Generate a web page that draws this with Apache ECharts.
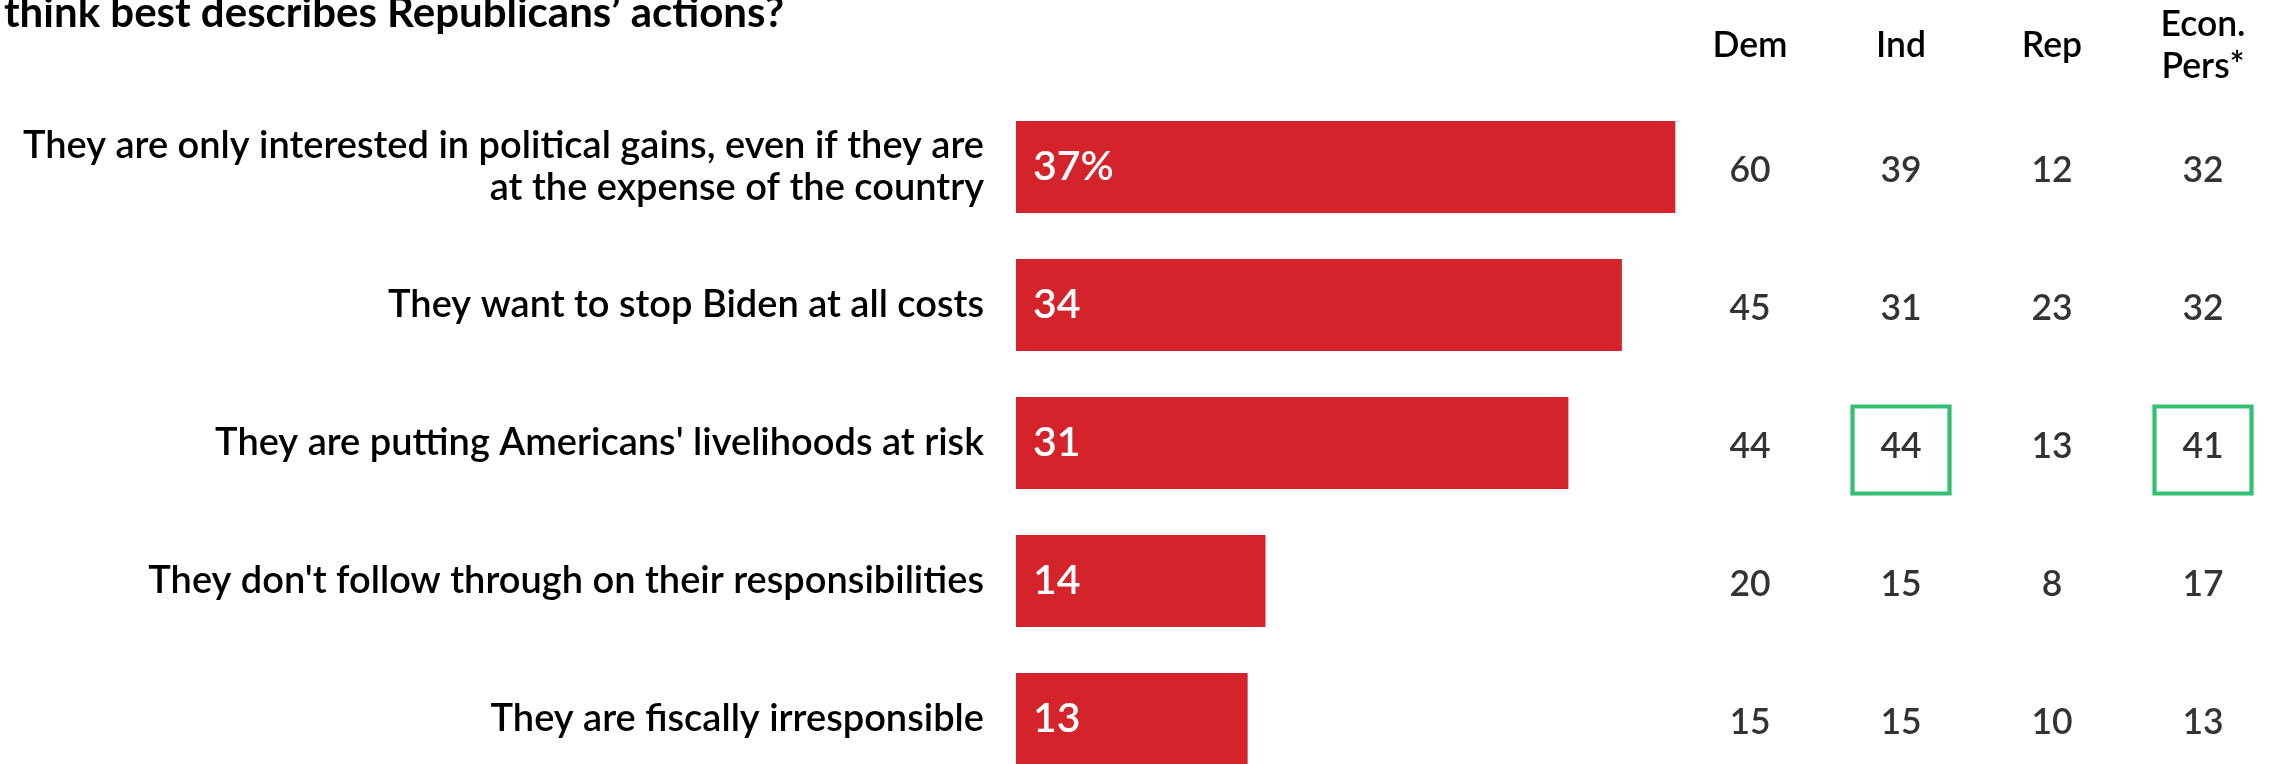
<!DOCTYPE html>
<html>
<head>
<meta charset="utf-8">
<script src="https://cdn.jsdelivr.net/npm/echarts@6/dist/echarts.min.js"></script>
<style>
  html, body { margin: 0; padding: 0; background: #ffffff; }
  #chart { width: 2275px; height: 764px; }
</style>
</head>
<body>
<div id="chart"></div>
<script>
// Survey answers, shares of all respondents (%)
const categories = [
  'They are only interested in political gains, even if they are\nat the expense of the country',
  'They want to stop Biden at all costs',
  "They are putting Americans' livelihoods at risk",
  "They don't follow through on their responsibilities",
  'They are fiscally irresponsible'
];
const totals = [37, 34, 31, 14, 13];

// Breakdown by group
const groups = ['Dem', 'Ind', 'Rep', 'Econ.\nPers*'];
const dem = [60, 45, 44, 20, 15];
const ind = [39, 31, 44, 15, 15];
const rep = [12, 23, 13, 8, 10];
const econ = [32, 32, 41, 17, 13];

// Cells outlined in green: [group index, answer index]
const highlighted = [[1, 2], [3, 2]];

const titleText = 'think best describes Republicans\u2019 actions?';

const FONT = 'Lato, "Open Sans", sans-serif';
const WEIGHT = 600;
const RED = '#d4232a';
const GREEN = '#00b050';

const columns = [dem, ind, rep, econ];
const tableCells = [];
columns.forEach((col, c) => {
  col.forEach((v, r) => tableCells.push([c, r, v]));
});
const boxCells = highlighted.map(([c, r]) => [c, r, columns[c][r]]);

const chart = echarts.init(document.getElementById('chart'), null, { renderer: 'canvas' });

chart.setOption({
  backgroundColor: '#ffffff',
  animation: false,
  textStyle: { fontFamily: FONT },
  graphic: [{
    type: 'text',
    left: 4,
    top: -8,
    style: {
      text: titleText,
      fill: '#000000',
      font: 'bold 42px ' + FONT
    }
  }],
  grid: [
    { left: 1016, top: 98, width: 712.8, height: 690, outerBoundsMode: 'none', containLabel: false },
    { left: 1674.5, top: 98, width: 604, height: 690, outerBoundsMode: 'none', containLabel: false }
  ],
  xAxis: [
    {
      gridIndex: 0, type: 'value', min: 0, max: 40,
      show: false
    },
    {
      gridIndex: 1, type: 'category', data: groups, position: 'top',
      axisLine: { show: false }, axisTick: { show: false }, splitLine: { show: false },
      axisLabel: {
        margin: 52, verticalAlign: 'middle', align: 'center',
        fontSize: 35.5, lineHeight: 42, color: '#000000', fontFamily: FONT, fontWeight: WEIGHT
      }
    }
  ],
  yAxis: [
    {
      gridIndex: 0, type: 'category', data: categories, inverse: true,
      axisLine: { show: false }, axisTick: { show: false }, splitLine: { show: false },
      axisLabel: {
        margin: 32, align: 'right', fontSize: 38, lineHeight: 42,
        color: '#000000', fontFamily: FONT, fontWeight: WEIGHT
      }
    },
    {
      gridIndex: 1, type: 'category', data: categories, inverse: true,
      show: false
    }
  ],
  series: [
    {
      type: 'bar',
      xAxisIndex: 0, yAxisIndex: 0,
      data: totals,
      barWidth: 92,
      itemStyle: { color: RED },
      label: {
        show: true, position: 'insideLeft', distance: 17,
        color: '#ffffff', fontSize: 41, fontFamily: FONT, fontWeight: WEIGHT,
        formatter: p => p.dataIndex === 0 ? p.value + '%' : String(p.value)
      }
    },
    {
      type: 'scatter',
      xAxisIndex: 1, yAxisIndex: 1,
      data: tableCells,
      symbolSize: 1,
      itemStyle: { color: 'rgba(0,0,0,0)' },
      label: {
        show: true, position: 'inside', offset: [0, 4],
        color: '#000000', fontSize: 35.5, fontFamily: FONT, fontWeight: WEIGHT,
        formatter: p => String(p.value[2])
      }
    },
    {
      type: 'scatter',
      xAxisIndex: 1, yAxisIndex: 1,
      data: boxCells,
      symbol: 'rect',
      symbolSize: [97, 87],
      symbolOffset: [0, 7],
      itemStyle: { color: 'rgba(0,0,0,0)', borderColor: GREEN, borderWidth: 4 },
      label: { show: false },
      z: 1
    }
  ]
});
</script>
</body>
</html>
